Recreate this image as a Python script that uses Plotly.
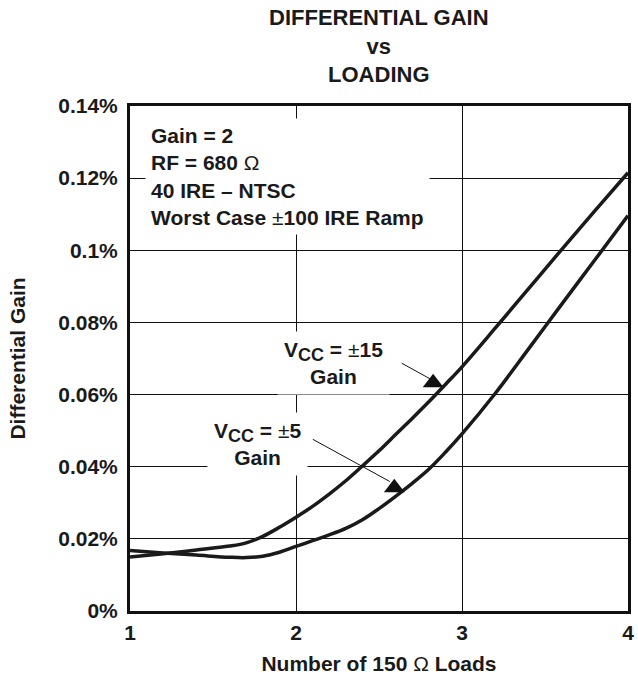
import plotly.graph_objects as go

# ---- data ----
loads = [1.0, 1.2, 1.4, 1.6, 1.7, 1.8, 1.9, 2.0, 2.1, 2.2, 2.3, 2.4, 2.5, 2.6, 2.7, 2.8, 2.9, 3.0,
         3.2, 3.4, 3.6, 3.8, 4.0]
gain_vcc15 = [0.0150, 0.0159, 0.0169, 0.0180, 0.0189, 0.0207, 0.0232, 0.0260, 0.0290, 0.0324, 0.0361,
              0.0402, 0.0444, 0.0489, 0.0534, 0.0580, 0.0628, 0.0677, 0.0784, 0.0893, 0.1002, 0.1109, 0.1215]
gain_vcc5 = [0.0168, 0.0161, 0.0155, 0.0149, 0.0148, 0.0152, 0.0163, 0.0179, 0.0195, 0.0211, 0.0229,
             0.0253, 0.0284, 0.0318, 0.0354, 0.0393, 0.0440, 0.0491, 0.0603, 0.0726, 0.0850, 0.0973, 0.1096]

y_ticks = [0, 0.02, 0.04, 0.06, 0.08, 0.10, 0.12, 0.14]
y_ticktext = ["0%", "0.02%", "0.04%", "0.06%", "0.08%", "0.1%", "0.12%", "0.14%"]
x_ticks = [1, 2, 3, 4]
x_ticktext = ["1", "2", "3", "4"]

# label / pointer positions (data coords)
label15_pos = (2.226, 0.0688)
label5_pos = (1.768, 0.0463)
pointer15_tri = (2.826, 0.0633)
pointer5_tri = (2.592, 0.0342)
leader15 = [(2.637, 0.0687), (2.810, 0.0643)]
leader5 = [(2.101, 0.0476), (2.565, 0.0359)]

FONT = "Liberation Sans, Arial, Helvetica, sans-serif"
SYM = '<span style="font-weight:normal">{}</span>'
SUB = '<sub><span style="font-size:18px">{}</span></sub>'

fig = go.Figure()
fig.add_trace(go.Scatter(x=loads, y=gain_vcc15, mode="lines",
                         line=dict(color="#1a1a1a", width=3.5, shape="spline", smoothing=1.0),
                         name="VCC = ±15", hoverinfo="skip"))
fig.add_trace(go.Scatter(x=loads, y=gain_vcc5, mode="lines",
                         line=dict(color="#1a1a1a", width=3.5, shape="spline", smoothing=1.0),
                         name="VCC = ±5", hoverinfo="skip"))
fig.add_trace(go.Scatter(x=[pointer15_tri[0], pointer5_tri[0]], y=[pointer15_tri[1], pointer5_tri[1]],
                         mode="markers", marker=dict(symbol="triangle-up", size=18, color="#111"),
                         hoverinfo="skip"))

for (x0, y0), (x1, y1) in [leader15, leader5]:
    fig.add_shape(type="line", x0=x0, y0=y0, x1=x1, y1=y1, xref="x", yref="y",
                  line=dict(color="#111", width=1), layer="above")

txtfont = dict(family=FONT, size=21, color="#1a1a1a", weight="bold")

fig.add_annotation(x=1.089, y=0.1368, xref="x", yref="y", xanchor="left", yanchor="top",
                   align="left", showarrow=False, bgcolor="white", borderpad=5,
                   text="Gain = 2<br>RF = 680 " + SYM.format("Ω") + "<br>40 IRE – NTSC<br>Worst Case "
                        + SYM.format("±") + "100 IRE Ramp",
                   font=txtfont)
fig.add_annotation(x=label15_pos[0], y=label15_pos[1], xref="x", yref="y", showarrow=False,
                   bgcolor="white", borderpad=6, align="center",
                   text="V" + SUB.format("CC") + " = " + SYM.format("±") + "15<br>Gain", font=txtfont)
fig.add_annotation(x=label5_pos[0], y=label5_pos[1], xref="x", yref="y", showarrow=False,
                   bgcolor="white", borderpad=6, align="center",
                   text="V" + SUB.format("CC") + " = " + SYM.format("±") + "5<br>Gain", font=txtfont)

# chart title
fig.add_annotation(x=0.5, y=1, xref="paper", yref="paper", xanchor="center", yanchor="top",
                   yshift=103, showarrow=False, align="center",
                   text="DIFFERENTIAL GAIN<br>vs<br>LOADING",
                   font=dict(family=FONT, size=22, color="#1a1a1a", weight="bold"))

fig.update_layout(
    width=638, height=679,
    margin=dict(l=130, r=4, t=106, b=68),
    paper_bgcolor="white", plot_bgcolor="white",
    showlegend=False,
    font=dict(family=FONT, size=21, color="#1a1a1a", weight="bold"),
)
fig.update_xaxes(range=[1, 4], tickvals=x_ticks, ticktext=x_ticktext,
                 showgrid=True, gridcolor="#111", gridwidth=1,
                 showline=True, linecolor="#111", linewidth=3, mirror=True,
                 ticks="", zeroline=False, ticklabelstandoff=1,
                 title=dict(text="Number of 150 " + SYM.format("Ω") + " Loads", standoff=14,
                            font=dict(family=FONT, size=21, weight="bold")))
fig.update_yaxes(range=[0, 0.14], tickvals=y_ticks, ticktext=y_ticktext,
                 showgrid=True, gridcolor="#111", gridwidth=1,
                 showline=True, linecolor="#111", linewidth=3, mirror=True,
                 ticks="", zeroline=False, ticklabelstandoff=5,
                 title=dict(text="Differential Gain", standoff=27,
                            font=dict(family=FONT, size=21, weight="bold")))

fig.write_html("out.html")
